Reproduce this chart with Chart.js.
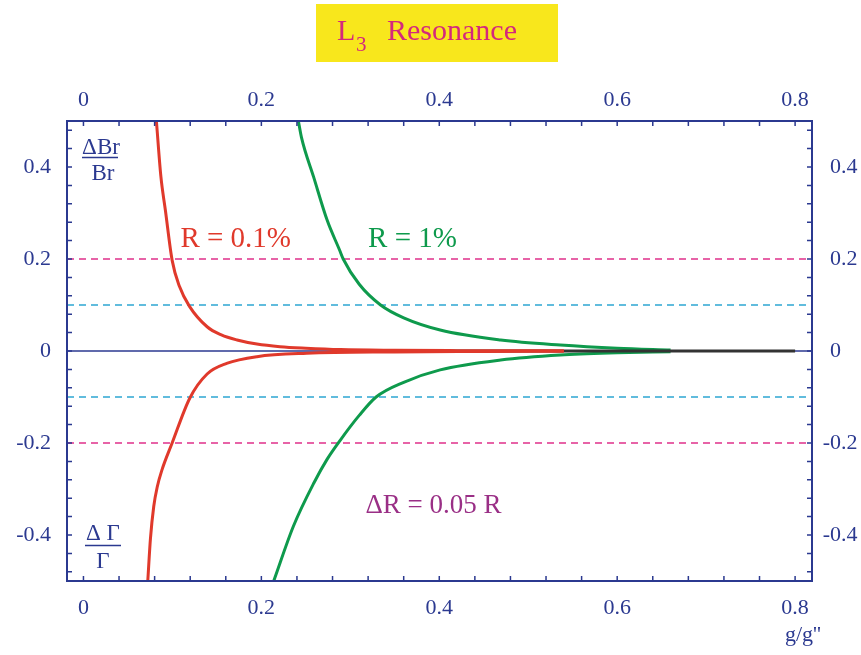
<!DOCTYPE html>
<html>
<head>
<meta charset="utf-8">
<script src="https://cdn.jsdelivr.net/npm/chart.js@4.4.1/dist/chart.umd.min.js"></script>
<style>
  html, body { margin: 0; padding: 0; background: #ffffff; }
  #wrap { width: 861px; height: 655px; }
</style>
</head>
<body>
<div id="wrap"><canvas id="c" width="861" height="655"></canvas></div>
<script>
// Axis ticks
const xTicks = [0, 0.2, 0.4, 0.6, 0.8];
const yTicks = [-0.4, -0.2, 0, 0.2, 0.4];

// R = 0.1% : upper branch (ΔBr/Br) and lower branch (ΔΓ/Γ)
const redUpperG = [0.082, 0.087, 0.0921, 0.0997, 0.108, 0.119, 0.139, 0.155, 0.1727, 0.195, 0.221, 0.25, 0.289, 0.35, 0.42, 0.54];
const redUpperV = [0.50, 0.38, 0.306, 0.197, 0.14, 0.0976, 0.0527, 0.035, 0.0239, 0.015, 0.0093, 0.006, 0.003, 0.0015, 0.0008, 0.0003];
const redLowerG = [0.0723, 0.0753, 0.079, 0.083, 0.088, 0.0997, 0.1195, 0.139, 0.161, 0.195, 0.251, 0.35, 0.45, 0.54];
const redLowerV = [-0.50, -0.408, -0.338, -0.295, -0.26, -0.20, -0.1026, -0.05, -0.027, -0.0123, -0.005, -0.002, -0.001, -0.0003];

// R = 1% : upper and lower branches
const greenUpperG = [0.2416, 0.245, 0.2588, 0.274, 0.288, 0.292, 0.31, 0.334, 0.36, 0.401, 0.469, 0.536, 0.60, 0.66];
const greenUpperV = [0.50, 0.465, 0.378, 0.284, 0.219, 0.20, 0.145, 0.10, 0.072, 0.0456, 0.024, 0.013, 0.006, 0.002];
const greenLowerG = [0.2139, 0.236, 0.259, 0.274, 0.289, 0.31, 0.329, 0.36, 0.401, 0.469, 0.536, 0.60, 0.66];
const greenLowerV = [-0.50, -0.381, -0.287, -0.235, -0.193, -0.14, -0.10, -0.068, -0.041, -0.0195, -0.0087, -0.004, -0.0015];

// Limit curve along zero
const limitG = [0.375, 0.8];
const limitV = [0, 0];

// Reference levels
const band20 = [0.2, -0.2];
const band10 = [0.1, -0.1];

const X_MIN = -0.0185, X_MAX = 0.819;
const Y_MIN = -0.5, Y_MAX = 0.5;

const NAVY = '#2b3990';
const RED = '#e0392b';
const GREEN = '#0e9a4c';
const SERIF = '"Liberation Serif", "Times New Roman", serif';

Chart.defaults.font.family = SERIF;

const pts = (gs, vs) => gs.map((g, i) => ({ x: g, y: vs[i] }));
const hline = v => [{ x: X_MIN, y: v }, { x: X_MAX, y: v }];

const datasets = [];
// curves (lower order is drawn on top)
datasets.push({ data: pts(redUpperG, redUpperV), borderColor: RED, borderWidth: 3, order: 1 });
datasets.push({ data: pts(redLowerG, redLowerV), borderColor: RED, borderWidth: 3, order: 1 });
datasets.push({ data: pts(limitG, limitV), borderColor: '#333333', borderWidth: 3, order: 2 });
datasets.push({ data: pts(greenUpperG, greenUpperV), borderColor: GREEN, borderWidth: 3, order: 3 });
datasets.push({ data: pts(greenLowerG, greenLowerV), borderColor: GREEN, borderWidth: 3, order: 3 });
band20.forEach(v => datasets.push({ data: hline(v), borderColor: '#e0308a', borderWidth: 1.5, borderDash: [7, 5], order: 5 }));
band10.forEach(v => datasets.push({ data: hline(v), borderColor: '#2ea6d2', borderWidth: 1.5, borderDash: [7, 5], order: 5 }));
datasets.push({ data: hline(0), borderColor: NAVY, borderWidth: 1.5, order: 4 });

datasets.forEach(d => {
  d.pointRadius = 0;
  d.fill = false;
  d.cubicInterpolationMode = 'monotone';
});

const fmt = v => (Math.abs(v) < 1e-9 ? '0' : String(Math.round(v * 10) / 10));
const tickFont = { family: SERIF, size: 22 };

const decor = {
  id: 'decor',
  beforeDraw(chart) {
    const ctx = chart.ctx;
    ctx.save();
    ctx.fillStyle = '#ffffff';
    ctx.fillRect(0, 0, chart.width, chart.height);
    // title box
    ctx.fillStyle = '#f8e71c';
    ctx.fillRect(316, 4, 242, 58);
    ctx.fillStyle = '#d4287c';
    ctx.textBaseline = 'alphabetic';
    ctx.textAlign = 'left';
    ctx.font = '30px ' + SERIF;
    ctx.fillText('L', 337, 40);
    ctx.font = '21px ' + SERIF;
    ctx.fillText('3', 356, 51);
    ctx.font = '30px ' + SERIF;
    ctx.fillText('Resonance', 387, 40);
    ctx.restore();
  },
  afterDatasetsDraw(chart) {
    const ctx = chart.ctx;
    const a = chart.chartArea;
    const xs = chart.scales.x, ys = chart.scales.y;
    ctx.save();
    // frame
    ctx.strokeStyle = NAVY;
    ctx.lineWidth = 2;
    ctx.strokeRect(a.left, a.top, a.right - a.left, a.bottom - a.top);
    // inward tick marks every 0.04
    ctx.lineWidth = 1.5;
    ctx.beginPath();
    for (let k = 0; k <= 20; k++) {
      const px = xs.getPixelForValue(k * 0.04);
      ctx.moveTo(px, a.top); ctx.lineTo(px, a.top + 5);
      ctx.moveTo(px, a.bottom); ctx.lineTo(px, a.bottom - 5);
    }
    for (let k = -12; k <= 12; k++) {
      const py = ys.getPixelForValue(k * 0.04);
      ctx.moveTo(a.left, py); ctx.lineTo(a.left + 5, py);
      ctx.moveTo(a.right, py); ctx.lineTo(a.right - 5, py);
    }
    ctx.stroke();

    // right-hand tick labels: digits start at a fixed column, minus sign hangs left
    ctx.fillStyle = NAVY;
    ctx.font = '22px ' + SERIF;
    ctx.textBaseline = 'middle';
    const col = a.right + 18;
    yTicks.forEach(v => {
      const py = ys.getPixelForValue(v);
      const txt = fmt(Math.abs(v));
      ctx.textAlign = 'left';
      ctx.fillText(txt, col, py);
      if (v < 0) {
        ctx.textAlign = 'right';
        ctx.fillText('-', col, py);
      }
    });

    // curve labels
    ctx.textBaseline = 'alphabetic';
    ctx.textAlign = 'left';
    ctx.font = '29px ' + SERIF;
    ctx.fillStyle = RED;
    ctx.fillText('R = 0.1%', xs.getPixelForValue(0.109), ys.getPixelForValue(0.226));
    ctx.fillStyle = GREEN;
    ctx.fillText('R = 1%', xs.getPixelForValue(0.32), ys.getPixelForValue(0.226));
    ctx.fillStyle = '#9a2f86';
    ctx.font = '27px ' + SERIF;
    ctx.fillText('\u0394R = 0.05 R', xs.getPixelForValue(0.317), ys.getPixelForValue(-0.352));

    // fraction labels
    ctx.fillStyle = NAVY;
    ctx.font = '23px ' + SERIF;
    ctx.textAlign = 'center';
    ctx.fillText('\u0394Br', 101, 154);
    ctx.fillText('Br', 103, 180);
    ctx.fillText('\u0394 \u0393', 103, 540);
    ctx.fillText('\u0393', 103, 568);
    ctx.lineWidth = 1.5;
    ctx.beginPath();
    ctx.moveTo(82, 157.5); ctx.lineTo(118, 157.5);
    ctx.moveTo(85, 545.5); ctx.lineTo(121, 545.5);
    ctx.stroke();

    // x-axis caption
    ctx.font = '22px ' + SERIF;
    ctx.textAlign = 'left';
    ctx.fillText("g/g''", 785, 641);
    ctx.restore();
  }
};

const setTicks = vals => scale => { scale.ticks = vals.map(v => ({ value: v })); };

new Chart(document.getElementById('c'), {
  type: 'line',
  data: { datasets },
  plugins: [decor],
  options: {
    responsive: false,
    devicePixelRatio: 1,
    animation: false,
    layout: { padding: 0 },
    plugins: { legend: { display: false }, tooltip: { enabled: false }, title: { display: false } },
    scales: {
      x: {
        type: 'linear', position: 'bottom', min: X_MIN, max: X_MAX,
        grid: { display: false, drawTicks: false }, border: { display: false },
        afterBuildTicks: setTicks(xTicks),
        afterFit: s => { s.height = 74; },
        ticks: { color: NAVY, font: tickFont, padding: 14, maxRotation: 0, autoSkip: false, callback: fmt }
      },
      x2: {
        type: 'linear', position: 'top', min: X_MIN, max: X_MAX,
        grid: { display: false, drawTicks: false }, border: { display: false },
        afterBuildTicks: setTicks(xTicks),
        afterFit: s => { s.height = 121; },
        ticks: { color: NAVY, font: tickFont, padding: 8, maxRotation: 0, autoSkip: false, callback: fmt }
      },
      y: {
        type: 'linear', position: 'left', min: Y_MIN, max: Y_MAX,
        grid: { display: false, drawTicks: false }, border: { display: false },
        afterBuildTicks: setTicks(yTicks),
        afterFit: s => { s.width = 67; },
        ticks: { color: NAVY, font: tickFont, padding: 16, autoSkip: false, callback: fmt }
      },
      y2: {
        type: 'linear', position: 'right', min: Y_MIN, max: Y_MAX,
        grid: { display: false, drawTicks: false }, border: { display: false },
        afterBuildTicks: setTicks(yTicks),
        afterFit: s => { s.width = 49; },
        ticks: { display: false }
      }
    }
  }
});
</script>
</body>
</html>
